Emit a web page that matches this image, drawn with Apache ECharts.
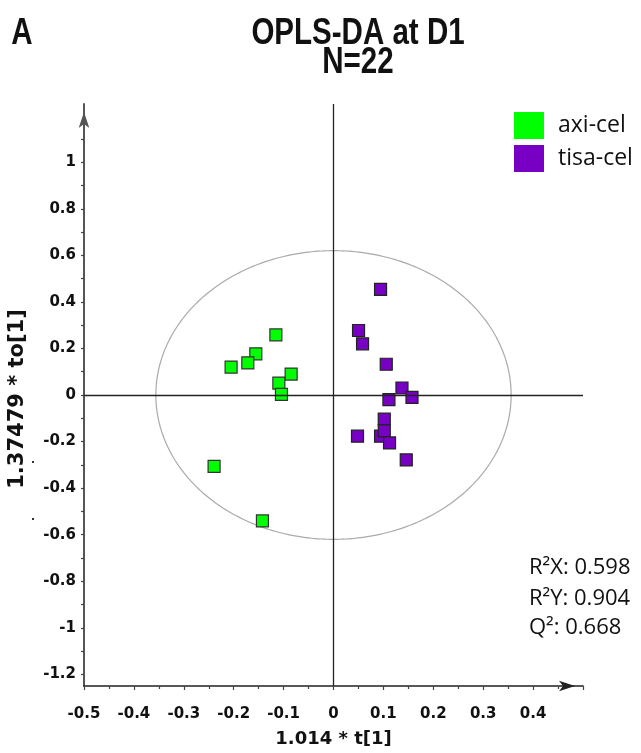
<!DOCTYPE html>
<html>
<head>
<meta charset="utf-8">
<script src="https://cdn.jsdelivr.net/npm/echarts@6/dist/echarts.min.js"></script>
<style>html,body{margin:0;padding:0;background:#fff}#c{width:641px;height:753px}</style>
</head>
<body>
<div id="c"></div>
<script>
// ---- data ----
const categories = ['axi-cel', 'tisa-cel'];
const axiX = [-0.1155, -0.1557, -0.1717, -0.2052, -0.0849, -0.1095, -0.1043, -0.2393, -0.1424];
const axiY = [0.258, 0.177, 0.138, 0.120, 0.090, 0.051, 0.003, -0.307, -0.541];
const tisaX = [0.0943, 0.0502, 0.0582, 0.1057, 0.1372, 0.1573, 0.1111, 0.1017, 0.0943, 0.1017, 0.0481, 0.1123, 0.1458];
const tisaY = [0.454, 0.277, 0.220, 0.132, 0.030, -0.010, -0.020, -0.104, -0.177, -0.154, -0.177, -0.206, -0.279];
const yLabelValues = [-1.2, -1, -0.8, -0.6, -0.4, -0.2, 0, 0.2, 0.4, 0.6, 0.8, 1];
const yTickValues = [-1.2, -1.1, -1, -0.9, -0.8, -0.7, -0.6, -0.5, -0.4, -0.3, -0.2, -0.1, 0, 0.1, 0.2, 0.3, 0.4, 0.5, 0.6, 0.7, 0.8, 0.9, 1, 1.1];
const xRange = [-0.5, 0.5];
const yRange = [-1.25, 1.25];
const ellipseCenter = [0, 0];
const ellipseRadii = [0.356, 0.62];
const stats = ['R²X: 0.598', 'R²Y: 0.904', 'Q²: 0.668'];
const titleLines = ['OPLS-DA at D1', 'N=22'];
const panelLetter = 'A';
const xName = '1.014 * t[1]';
const yName = '1.37479 * to[1]';
const colors = ['#00ff00', '#7800c4'];

const chart = echarts.init(document.getElementById('c'), null, {renderer: 'canvas'});
const tickFont = {fontFamily: 'DejaVu Sans', fontWeight: 'bold', fontSize: 15, color: '#111'};
const titleFont = "'Liberation Sans',Arial,sans-serif";

function pairs(xs, ys) { return xs.map((x, i) => [x, ys[i]]); }

const option = {
  animation: false,
  grid: {left: 84, right: 58, top: 104, bottom: 64, containLabel: false},
  legend: {
    orient: 'vertical', left: 514, top: 112, itemWidth: 30, itemHeight: 27, itemGap: 6, padding: 0,
    icon: 'rect',
    data: categories.map((n, i) => ({name: n, itemStyle: {color: colors[i], borderWidth: 0}})),
    textStyle: {fontFamily: 'Open Sans', fontSize: 23, color: '#111', padding: [0, 0, 0, 9]},
    selectedMode: false
  },
  xAxis: {
    type: 'value', min: xRange[0], max: xRange[1], interval: 0.1,
    axisLine: {onZero: false, lineStyle: {color: '#222', width: 1.5}, symbol: ['none', 'arrow'], symbolSize: [8, 16], symbolOffset: [0, -8]},
    axisTick: {show: true, length: 4, lineStyle: {color: '#444', width: 1.2}},
    minorTick: {show: true, splitNumber: 2, length: 3, lineStyle: {color: '#444', width: 1.2}},
    splitLine: {show: false},
    axisLabel: Object.assign({margin: 21, showMaxLabel: false, formatter: v => (Math.round(v * 10) / 10).toString()}, tickFont),
    name: xName, nameLocation: 'middle', nameGap: 44,
    nameTextStyle: {fontFamily: 'DejaVu Sans', fontWeight: 'bold', fontSize: 18, color: '#111'}
  },
  yAxis: {
    type: 'value', min: yRange[0], max: yRange[1],
    axisLine: {onZero: false, lineStyle: {color: '#555', width: 2}, symbol: ['none', 'arrow'], symbolSize: [8, 16], symbolOffset: [0, -8]},
    axisTick: {show: true, length: 3, customValues: yTickValues, lineStyle: {color: '#444', width: 1.2}},
    splitLine: {show: false},
    axisLabel: Object.assign({margin: 8, customValues: yLabelValues, formatter: v => (Math.round(v * 10) / 10).toString()}, tickFont)
  },
  series: [
    {
      name: 'ellipse', type: 'custom', z: 1, silent: true,
      data: [ellipseCenter],
      renderItem: function (params, api) {
        const c = api.coord([api.value(0), api.value(1)]);
        const s = api.size([ellipseRadii[0], ellipseRadii[1]]);
        const pts = [];
        for (let i = 0; i <= 360; i++) {
          const t = i * Math.PI / 180;
          pts.push([c[0] + s[0] * Math.cos(t), c[1] + s[1] * Math.sin(t)]);
        }
        return {type: 'polyline', shape: {points: pts}, style: {stroke: '#aaaaaa', lineWidth: 1.2, fill: null}};
      },
      markLine: {
        silent: true, symbol: ['none', 'none'], label: {show: false},
        lineStyle: {color: '#222', width: 1.3, type: 'solid'},
        data: [{xAxis: 0}, {yAxis: 0}]
      }
    },
    {
      name: categories[0], type: 'scatter', z: 3, symbol: 'rect', symbolSize: 12,
      itemStyle: {color: colors[0], borderColor: '#333', borderWidth: 1.2, opacity: 1},
      data: pairs(axiX, axiY)
    },
    {
      name: categories[1], type: 'scatter', z: 3, symbol: 'rect', symbolSize: 12,
      itemStyle: {color: colors[1], borderColor: '#222', borderWidth: 1.2, opacity: 1},
      data: pairs(tisaX, tisaY)
    }
  ],
  graphic: [
    {type: 'text', x: 22, y: 34, scaleX: 0.82, style: {text: panelLetter, fontFamily: titleFont, fontWeight: 'bold', fontSize: 36, fill: '#111', align: 'center', verticalAlign: 'middle'}},
    {type: 'text', x: 358, y: 34, scaleX: 0.82, style: {text: titleLines[0], fontFamily: titleFont, fontWeight: 'bold', fontSize: 36, fill: '#111', align: 'center', verticalAlign: 'middle'}},
    {type: 'text', x: 358, y: 63, scaleX: 0.82, style: {text: titleLines[1], fontFamily: titleFont, fontWeight: 'bold', fontSize: 36, fill: '#111', align: 'center', verticalAlign: 'middle'}},
    {type: 'text', x: 18, y: 399, rotation: Math.PI / 2, style: {text: yName, fontFamily: 'DejaVu Sans', fontWeight: 'bold', fontSize: 21, fill: '#111', align: 'center', verticalAlign: 'middle'}},
    {type: 'rect', shape: {x: 32, y: 461, width: 2, height: 2}, style: {fill: '#333'}},
    {type: 'rect', shape: {x: 32, y: 518, width: 2, height: 2}, style: {fill: '#333'}},
    {type: 'text', x: 529, y: 568, style: {text: stats[0], fontFamily: 'Open Sans', fontSize: 22, fill: '#111', align: 'left', verticalAlign: 'middle'}},
    {type: 'text', x: 529, y: 599, style: {text: stats[1], fontFamily: 'Open Sans', fontSize: 22, fill: '#111', align: 'left', verticalAlign: 'middle'}},
    {type: 'text', x: 529, y: 628, style: {text: stats[2], fontFamily: 'Open Sans', fontSize: 22, fill: '#111', align: 'left', verticalAlign: 'middle'}}
  ]
};
chart.setOption(option);
</script>
</body>
</html>
